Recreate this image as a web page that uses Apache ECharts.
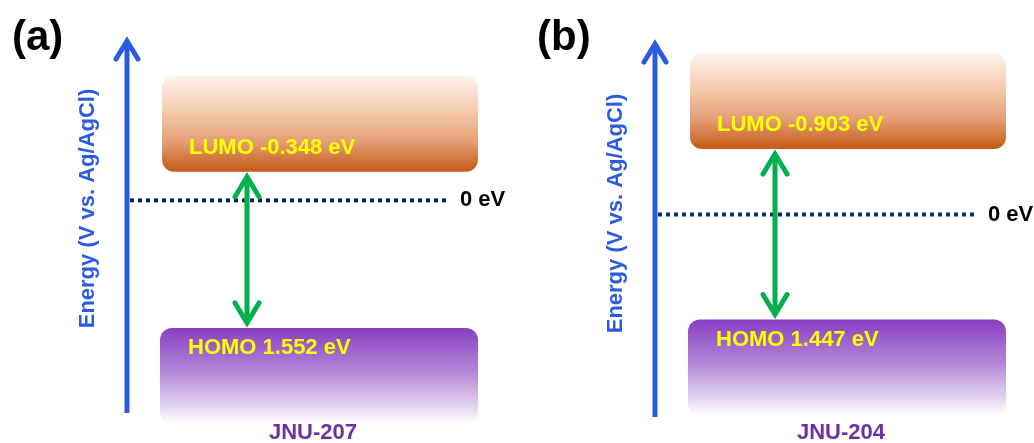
<!DOCTYPE html>
<html>
<head>
<meta charset="utf-8">
<script src="https://cdn.jsdelivr.net/npm/echarts@6/dist/echarts.min.js"></script>
<style>
  html, body { margin: 0; padding: 0; background: #ffffff; }
  #chart { width: 1034px; height: 443px; }
</style>
</head>
<body>
<div id="chart"></div>
<script>
// Frontier orbital levels (V vs. Ag/AgCl) for the two frameworks
const panelTags = ['(a)', '(b)'];
const materials = ['JNU-207', 'JNU-204'];
const lumoLevels = [-0.348, -0.903];
const homoLevels = [1.552, 1.447];
const referenceLevel = 0;
const axisTitle = 'Energy (V vs. Ag/AgCl)';

// Panel frames: grid left edge carries the energy arrow
const panels = [
  { left: 127, height: 417, yMin: -2.4374, yMax: 2.6357, arrowTop: 37, arrowBottom: 413, tagX: 12 },
  { left: 655, height: 427, yMin: -2.9569, yMax: 2.9287, arrowTop: 40, arrowBottom: 417, tagX: 537 }
];

const FONT = "'Liberation Sans', Arial, Helvetica, sans-serif";
const BLUE = '#2c5be3';
const GREEN = '#00b050';
const NAVY = '#0d2a5e';
const YELLOW = '#ffff00';
const PURPLE = '#7030a0';

const lumoFill = new echarts.graphic.LinearGradient(0, 0, 0, 1, [
  { offset: 0, color: '#fdf4ef' },
  { offset: 0.35, color: '#f6cdb1' },
  { offset: 0.7, color: '#e39c73' },
  { offset: 1, color: '#c45a14' }
]);
const homoFill = new echarts.graphic.LinearGradient(0, 0, 0, 1, [
  { offset: 0, color: '#8a3ec3' },
  { offset: 0.45, color: '#b286d6' },
  { offset: 0.8, color: '#e2d0ef' },
  { offset: 1, color: '#ffffff' }
]);

function chevron(x, yTip, dir, color, half, depth) {
  // dir = -1 points up, +1 points down
  return {
    type: 'polyline',
    shape: { points: [[x - half, yTip - dir * depth], [x, yTip], [x + half, yTip - dir * depth]] },
    style: { stroke: color, lineWidth: 5, fill: null, lineCap: 'round', lineJoin: 'miter' }
  };
}

function makeRender(p) {
  return function (params, api) {
    const i = params.seriesIndex;
    const x0 = params.coordSys.x;
    const yL = api.coord([0, api.value(1)])[1];
    const yH = api.coord([0, api.value(2)])[1];
    const y0 = api.coord([0, api.value(3)])[1];
    const gx = x0 + 120;
    const txt = (text, x, y, size, color, align) => ({
      type: 'text',
      style: {
        text: text, x: x, y: y, fill: color, align: align || 'left', verticalAlign: 'middle',
        font: 'bold ' + size + 'px ' + FONT
      }
    });
    return {
      type: 'group',
      children: [
        // energy axis arrow
        { type: 'line', shape: { x1: x0, y1: p.arrowBottom, x2: x0, y2: p.arrowTop + 4 },
          style: { stroke: BLUE, lineWidth: 5 } },
        chevron(x0, p.arrowTop + 4, -1, BLUE, 11, 18),
        // LUMO band
        { type: 'rect', shape: { x: x0 + 35, y: yL - 96, width: 316, height: 96, r: 12 },
          style: { fill: lumoFill } },
        // HOMO band
        { type: 'rect', shape: { x: x0 + 33, y: yH, width: 318, height: 96, r: 12 },
          style: { fill: homoFill } },
        // 0 eV reference
        { type: 'line', shape: { x1: x0 + 3, y1: y0, x2: x0 + 319, y2: y0 },
          style: { stroke: NAVY, lineWidth: 4, lineDash: [4, 4] } },
        // band gap arrow
        { type: 'line', shape: { x1: gx, y1: yL + 6, x2: gx, y2: yH - 6 },
          style: { stroke: GREEN, lineWidth: 5 } },
        chevron(gx, yL + 5, -1, GREEN, 12, 20),
        chevron(gx, yH - 5, 1, GREEN, 12, 20),
        txt('LUMO ' + api.value(1).toFixed(3) + ' eV', x0 + 62, yL - 24, 22, YELLOW),
        txt('HOMO ' + api.value(2).toFixed(3) + ' eV', x0 + 61, yH + 20, 22, YELLOW),
        txt(referenceLevel + ' eV', x0 + 333, y0, 22, '#000000'),
        txt(materials[i], x0 + 186, 433, 22, PURPLE, 'center'),
        txt(panelTags[i], p.tagX, 38, 42, '#000000')
      ]
    };
  };
}

const chart = echarts.init(document.getElementById('chart'), null, { renderer: 'canvas' });

chart.setOption({
  backgroundColor: '#ffffff',
  animation: false,
  grid: panels.map(p => ({ left: p.left, top: 0, width: 380, height: p.height })),
  xAxis: panels.map((p, i) => ({ type: 'value', gridIndex: i, min: 0, max: 1, show: false })),
  yAxis: panels.map((p, i) => ({
    type: 'value', gridIndex: i, inverse: true, min: p.yMin, max: p.yMax,
    name: axisTitle, nameLocation: 'middle', nameGap: 28, nameRotate: 90,
    nameTextStyle: { color: BLUE, fontSize: 22, fontWeight: 'bold', fontFamily: FONT },
    axisLine: { show: false }, axisTick: { show: false },
    axisLabel: { show: false }, splitLine: { show: false }
  })),
  series: panels.map((p, i) => ({
    type: 'custom',
    xAxisIndex: i,
    yAxisIndex: i,
    clip: false,
    renderItem: makeRender(p),
    data: [[0, lumoLevels[i], homoLevels[i], referenceLevel]]
  }))
});
</script>
</body>
</html>
